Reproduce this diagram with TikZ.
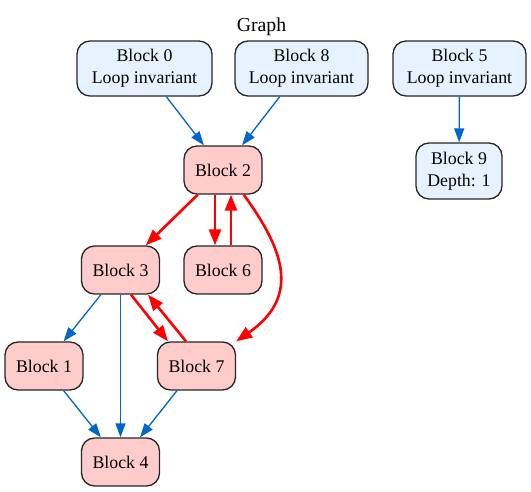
\documentclass[tikz,border=0pt]{standalone}
\usepackage{fontspec}
\setmainfont{Liberation Serif}
\usetikzlibrary{arrows.meta}

\definecolor{invfill}{RGB}{230,242,255}
\definecolor{bodyfill}{RGB}{255,204,204}
\definecolor{flowblue}{RGB}{0,102,204}
\definecolor{hotred}{RGB}{255,0,0}

\begin{document}
\begin{tikzpicture}[x=1pt,y=-1pt,
    label font/.style={font=\fontsize{17.8}{22}\selectfont},
    block/.style={draw=black!85, line width=1.3pt, rounded corners=13pt, align=center,
        inner sep=0pt, label font},
    invblock/.style={block, fill=invfill, minimum height=55pt},
    bodyblock/.style={block, fill=bodyfill, minimum width=78pt, minimum height=48pt},
    flow/.style={draw=flowblue, line width=1.3pt, -{Triangle[length=14pt,width=10pt]}},
    hot/.style={draw=hotred, line width=2.6pt, -{Triangle[length=16pt,width=12pt]}}]

\useasboundingbox (0,0) rectangle (531,492); % page size

% Title
\node[font=\fontsize{19.8}{24}\selectfont, inner sep=0pt, anchor=base] (title) at (261.5,31.5) {Graph};

% Loop invariant blocks (top row)
\node[invblock, minimum width=135pt] (blk0) at (144.5,68.5) {Block 0\\Loop invariant};
\node[invblock, minimum width=133pt] (blk8) at (301.5,68.5) {Block 8\\Loop invariant};
\node[invblock, minimum width=133pt] (blk5) at (459.5,68.5) {Block 5\\Loop invariant};
\node[invblock, minimum width=86pt, minimum height=56pt] (blk9) at (459,171) {Block 9\\Depth: 1};

% Loop body blocks
\node[bodyblock] (blk2) at (223,170) {Block 2};
\node[bodyblock] (blk3) at (120.5,270) {Block 3};
\node[bodyblock] (blk6) at (223,270) {Block 6};
\node[bodyblock] (blk1) at (44,366) {Block 1};
\node[bodyblock] (blk7) at (196.5,366) {Block 7};
\node[bodyblock] (blk4) at (120.5,462) {Block 4};

% Blue edges
\draw[flow] (blk0) -- (blk2);
\draw[flow] (blk8) -- (blk2);
\draw[flow] (blk5) -- (blk9);
\draw[flow] (blk3) -- (blk1);
\draw[flow] (blk3) -- (blk4);
\draw[flow] (blk1) -- (blk4);
\draw[flow] (blk7) -- (blk4);

% Red edges (loop)
\draw[hot] (blk2) -- (blk3);
\draw[hot] ([xshift=-8pt]blk2.south) -- ([xshift=-8pt]blk6.north); % down to Block 6
\draw[hot] ([xshift=8pt]blk6.north) -- ([xshift=8pt]blk2.south); % back up to Block 2
\draw[hot] (blk2.-50) .. controls (281,246) and (303,295) .. (blk7.north east); % long way round
\draw[hot] ([xshift=10.5pt]blk3.south) -- ([xshift=-28.5pt]blk7.north); % Block 3 to Block 7
\draw[hot] ([xshift=-10.5pt]blk7.north) -- ([xshift=27.5pt]blk3.south); % Block 7 back to Block 3

\end{tikzpicture}
\end{document}
